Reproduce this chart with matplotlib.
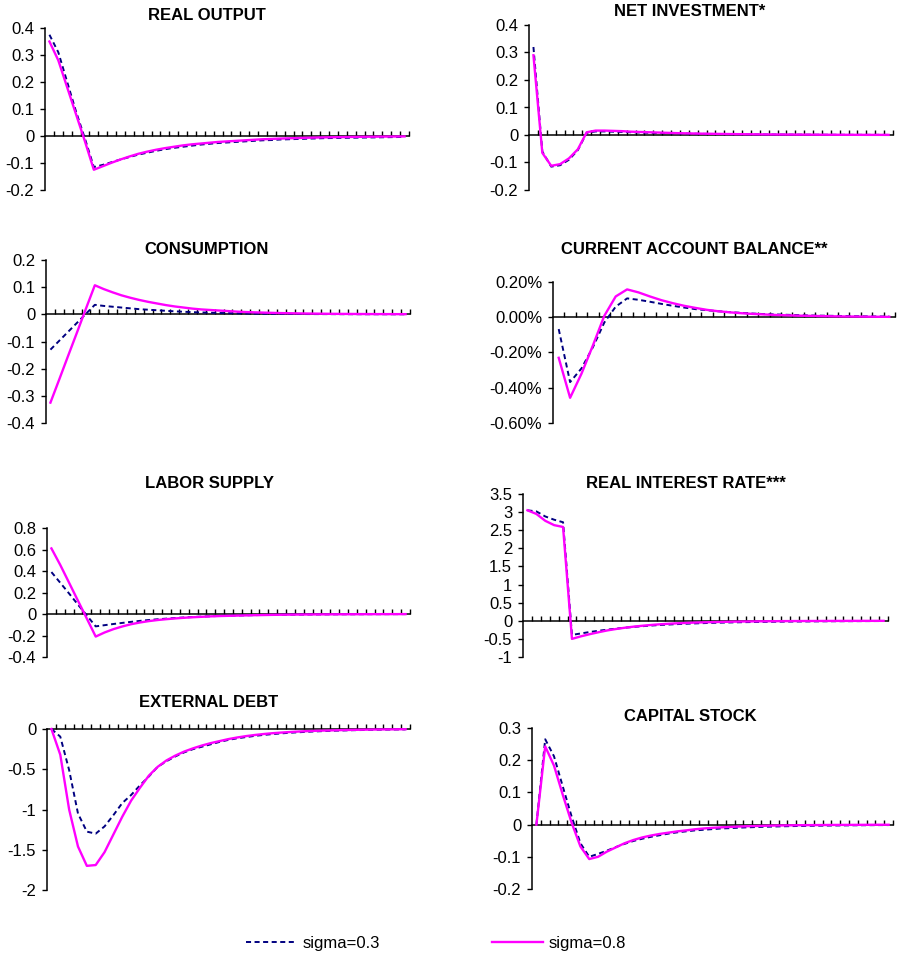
import matplotlib
matplotlib.use("Agg")
import matplotlib.pyplot as plt
import numpy as np

plt.rcParams['font.family'] = ['Liberation Sans', 'DejaVu Sans']

# ---------------- data ----------------
real_output_s03 = [0.375, 0.31, 0.20, 0.09, -0.01, -0.115, -0.107, -0.097, -0.087, -0.078, -0.069, -0.062, -0.055, -0.049, -0.044, -0.040, -0.036, -0.032, -0.029, -0.026, -0.024, -0.022, -0.020, -0.018, -0.016, -0.015, -0.013, -0.012, -0.011, -0.010, -0.009, -0.008, -0.0075, -0.007, -0.0065, -0.006, -0.0055, -0.005, -0.0045, -0.004, -0.0035]
real_output_s08 = [0.35, 0.28, 0.18, 0.08, -0.02, -0.125, -0.112, -0.099, -0.087, -0.076, -0.066, -0.058, -0.051, -0.045, -0.040, -0.035, -0.031, -0.028, -0.025, -0.022, -0.020, -0.018, -0.016, -0.014, -0.012, -0.011, -0.0095, -0.0085, -0.0075, -0.0065, -0.0058, -0.005, -0.0045, -0.004, -0.0035, -0.003, -0.0027, -0.0024, -0.0021, -0.0018, -0.0016]

net_inv_s03 = [0.32, -0.06, -0.115, -0.11, -0.09, -0.055, 0.008, 0.013, 0.013, 0.012, 0.011, 0.010, 0.009, 0.008, 0.0072, 0.0065, 0.0058, 0.0052, 0.0047, 0.0042, 0.0038, 0.0034, 0.003, 0.0027, 0.0024, 0.0022, 0.002, 0.0018, 0.0016, 0.0014, 0.0013, 0.0012, 0.001, 0.0009, 0.0008, 0.0007, 0.0006, 0.0006, 0.0005, 0.0005, 0.0004]
net_inv_s08 = [0.29, -0.065, -0.112, -0.106, -0.085, -0.052, 0.01, 0.016, 0.016, 0.015, 0.014, 0.012, 0.011, 0.010, 0.009, 0.008, 0.007, 0.0062, 0.0055, 0.0049, 0.0044, 0.0039, 0.0035, 0.0031, 0.0028, 0.0025, 0.0022, 0.002, 0.0018, 0.0016, 0.0014, 0.0013, 0.0011, 0.001, 0.0009, 0.0008, 0.0007, 0.0006, 0.0005, 0.0005, 0.0004]

consumption_s03 = [-0.13, -0.097, -0.064, -0.031, 0.002, 0.035, 0.031, 0.028, 0.025, 0.022, 0.019, 0.017, 0.015, 0.013, 0.011, 0.0095, 0.008, 0.007, 0.006, 0.005, 0.0043, 0.0037, 0.0031, 0.0026, 0.0022, 0.0019, 0.0016, 0.0014, 0.0012, 0.001, 0.0009, 0.0008, 0.0007, 0.0006, 0.0005, 0.0004, 0.0004, 0.0003, 0.0003, 0.0002, 0.0002]
consumption_s08 = [-0.325, -0.239, -0.152, -0.066, 0.021, 0.107, 0.093, 0.081, 0.070, 0.061, 0.053, 0.046, 0.040, 0.034, 0.029, 0.025, 0.021, 0.018, 0.016, 0.014, 0.012, 0.010, 0.0085, 0.0073, 0.0063, 0.0054, 0.0046, 0.004, 0.0034, 0.0029, 0.0025, 0.0021, 0.0018, 0.0016, 0.0014, 0.0012, 0.001, 0.0009, 0.0008, 0.0007, 0.0006]

# current account balance, in percent
ca_s03 = [-0.067, -0.368, -0.29, -0.17, -0.03, 0.06, 0.107, 0.099, 0.088, 0.076, 0.065, 0.055, 0.046, 0.04, 0.034, 0.029, 0.025, 0.021, 0.018, 0.016, 0.014, 0.012, 0.010, 0.009, 0.008, 0.007, 0.006, 0.005, 0.0045, 0.004]
ca_s08 = [-0.23, -0.457, -0.32, -0.16, 0.008, 0.118, 0.158, 0.141, 0.118, 0.097, 0.08, 0.065, 0.053, 0.042, 0.034, 0.028, 0.023, 0.019, 0.016, 0.013, 0.011, 0.009, 0.008, 0.0065, 0.0055, 0.0045, 0.004, 0.0033, 0.0028, 0.0023]

labor_s03 = [0.39, 0.29, 0.19, 0.087, -0.014, -0.115, -0.104, -0.093, -0.083, -0.073, -0.064, -0.056, -0.049, -0.043, -0.037, -0.032, -0.028, -0.024, -0.021, -0.018, -0.016, -0.014, -0.012, -0.0105, -0.009, -0.008, -0.007, -0.006, -0.0053, -0.0046, -0.004, -0.0035, -0.003, -0.0026, -0.0023, -0.002, -0.0018, -0.0016, -0.0014, -0.0012, -0.001]
labor_s08 = [0.61, 0.456, 0.29, 0.123, -0.043, -0.21, -0.172, -0.141, -0.116, -0.095, -0.079, -0.066, -0.056, -0.048, -0.041, -0.035, -0.030, -0.026, -0.022, -0.019, -0.017, -0.015, -0.013, -0.011, -0.0095, -0.008, -0.007, -0.006, -0.0052, -0.0045, -0.004, -0.0035, -0.003, -0.0026, -0.0023, -0.002, -0.0017, -0.0015, -0.0013, -0.0011, -0.001]

real_int_s03 = [3.05, 3.02, 2.88, 2.79, 2.72, -0.39, -0.35, -0.31, -0.275, -0.245, -0.215, -0.19, -0.168, -0.148, -0.13, -0.115, -0.102, -0.09, -0.08, -0.071, -0.063, -0.056, -0.05, -0.045, -0.04, -0.036, -0.032, -0.029, -0.026, -0.023, -0.021, -0.019, -0.017, -0.015, -0.013, -0.012, -0.011, -0.01, -0.009, -0.008, -0.007]
real_int_s08 = [3.05, 2.95, 2.76, 2.64, 2.59, -0.5, -0.43, -0.37, -0.315, -0.265, -0.225, -0.19, -0.16, -0.135, -0.113, -0.095, -0.08, -0.068, -0.057, -0.048, -0.041, -0.035, -0.03, -0.025, -0.021, -0.018, -0.015, -0.013, -0.011, -0.009, -0.008, -0.007, -0.006, -0.005, -0.0042, -0.0036, -0.003, -0.0026, -0.0022, -0.0019, -0.0016]

ext_debt_s03 = [0, -0.095, -0.51, -1.05, -1.275, -1.30, -1.21, -1.07, -0.92, -0.82, -0.70, -0.59, -0.47, -0.40, -0.34, -0.29, -0.25, -0.22, -0.19, -0.16, -0.135, -0.115, -0.1, -0.085, -0.073, -0.063, -0.054, -0.046, -0.04, -0.034, -0.029, -0.025, -0.021, -0.018, -0.015, -0.013, -0.011, -0.009, -0.0075, -0.006, -0.005]
ext_debt_s08 = [0, -0.32, -1.0, -1.46, -1.70, -1.69, -1.53, -1.31, -1.09, -0.89, -0.73, -0.58, -0.47, -0.39, -0.33, -0.28, -0.24, -0.205, -0.175, -0.15, -0.125, -0.105, -0.088, -0.074, -0.062, -0.052, -0.044, -0.037, -0.031, -0.026, -0.022, -0.019, -0.016, -0.013, -0.011, -0.009, -0.0075, -0.006, -0.005, -0.004, -0.003]

capital_s03 = [0, 0.265, 0.212, 0.118, 0.025, -0.058, -0.1, -0.091, -0.081, -0.07, -0.06, -0.051, -0.044, -0.038, -0.033, -0.028, -0.024, -0.021, -0.018, -0.016, -0.014, -0.012, -0.011, -0.0095, -0.0085, -0.0075, -0.0067, -0.006, -0.0053, -0.0047, -0.0042, -0.0038, -0.0034, -0.003, -0.0027, -0.0024, -0.0022, -0.002, -0.0018, -0.0016, -0.0015]
capital_s08 = [0, 0.243, 0.183, 0.092, 0.006, -0.068, -0.107, -0.1, -0.084, -0.071, -0.058, -0.048, -0.04, -0.034, -0.029, -0.025, -0.021, -0.018, -0.0145, -0.012, -0.01, -0.0085, -0.0072, -0.006, -0.005, -0.0043, -0.0036, -0.003, -0.0026, -0.0022, -0.0018, -0.0016, -0.0014, -0.0012, -0.001, -0.0009, -0.0008, -0.0007, -0.0006, -0.0005, -0.0005]

titles = ["REAL OUTPUT", "NET INVESTMENT*", "CONSUMPTION", "CURRENT ACCOUNT BALANCE**",
          "LABOR SUPPLY", "REAL INTEREST RATE***", "EXTERNAL DEBT", "CAPITAL STOCK"]

yticks_ro = [-0.2, -0.1, 0, 0.1, 0.2, 0.3, 0.4]
ylabels_ro = ["-0.2", "-0.1", "0", "0.1", "0.2", "0.3", "0.4"]
yticks_cons = [-0.4, -0.3, -0.2, -0.1, 0, 0.1, 0.2]
ylabels_cons = ["-0.4", "-0.3", "-0.2", "-0.1", "0", "0.1", "0.2"]
yticks_ca = [-0.6, -0.4, -0.2, 0, 0.2]
ylabels_ca = ["-0.60%", "-0.40%", "-0.20%", "0.00%", "0.20%"]
yticks_lab = [-0.4, -0.2, 0, 0.2, 0.4, 0.6, 0.8]
ylabels_lab = ["-0.4", "-0.2", "0", "0.2", "0.4", "0.6", "0.8"]
yticks_ri = [-1, -0.5, 0, 0.5, 1, 1.5, 2, 2.5, 3, 3.5]
ylabels_ri = ["-1", "-0.5", "0", "0.5", "1", "1.5", "2", "2.5", "3", "3.5"]
yticks_ed = [-2, -1.5, -1, -0.5, 0]
ylabels_ed = ["-2", "-1.5", "-1", "-0.5", "0"]
yticks_cap = [-0.2, -0.1, 0, 0.1, 0.2, 0.3]
ylabels_cap = ["-0.2", "-0.1", "0", "0.1", "0.2", "0.3"]

legend_labels = ["sigma=0.3", "sigma=0.8"]

# ---------------- layout (pixels) ----------------
W, H = 897, 955
fig = plt.figure(figsize=(W / 100, H / 100), dpi=100)

panels = [
    # series03, series08, yticks, ylabels, rect(x0, ytop, x1, ybot), title center (x, y)
    (real_output_s03, real_output_s08, yticks_ro, ylabels_ro, (45, 28, 409, 190), (207, 16)),
    (net_inv_s03, net_inv_s08, yticks_ro, ylabels_ro, (529, 25, 893, 190), (690, 11)),
    (consumption_s03, consumption_s08, yticks_cons, ylabels_cons, (46, 260, 410, 423), (207, 250)),
    (ca_s03, ca_s08, yticks_ca, ylabels_ca, (553, 282, 895, 423), (694, 250)),
    (labor_s03, labor_s08, yticks_lab, ylabels_lab, (47, 528, 410, 657), (209, 483)),
    (real_int_s03, real_int_s08, yticks_ri, ylabels_ri, (523, 494, 888, 657), (686, 483)),
    (ext_debt_s03, ext_debt_s08, yticks_ed, ylabels_ed, (47, 729, 410, 890), (209, 702)),
    (capital_s03, capital_s08, yticks_cap, ylabels_cap, (532, 728, 893, 889), (690, 716)),
]

BLUE = "#000080"
PINK = "#FF00FF"
FS = 12

handles = None
for (s03, s08, yt, yl, rect, tpos), title in zip(panels, titles):
    x0, yt0, x1, yb = rect
    ax = fig.add_axes([x0 / W, 1 - yb / H, (x1 - x0) / W, (yb - yt0) / H])
    n = len(s08)
    x = np.arange(n)
    h1, = ax.plot(x, s03, color=BLUE, lw=1.4, linestyle=(0, (2.6, 1.8)), clip_on=False, zorder=3)
    h2, = ax.plot(x, s08, color=PINK, lw=1.7, clip_on=False, zorder=4)
    if handles is None:
        handles = [h1, h2]
    ax.set_xlim(-0.5, n - 0.5)
    ax.set_ylim(yt[0], yt[-1])
    ax.set_yticks(yt)
    ax.set_yticklabels(yl)
    ax.set_xticks(np.arange(0.5, n, 1.0))
    ax.set_xticklabels([])
    for sp in ("top", "right"):
        ax.spines[sp].set_visible(False)
    ax.spines["bottom"].set_position(("data", 0))
    ax.spines["bottom"].set_linewidth(1.1)
    ax.spines["left"].set_linewidth(1.1)
    ax.spines["bottom"].set_zorder(2)
    ax.tick_params(axis="x", direction="in", length=3.8, width=1.0, color="black", labelbottom=False)
    ax.tick_params(axis="y", direction="out", length=3.8, width=1.0, pad=4, labelsize=FS)
    ax.patch.set_alpha(0)
    fig.text(tpos[0] / W, 1 - tpos[1] / H, title, ha="center", va="center",
             fontsize=FS, fontweight="bold")

fig.legend(handles, legend_labels, loc="center left",
           bbox_to_anchor=(246 / W, 1 - 943 / H), ncol=2, frameon=False,
           fontsize=FS, handlelength=3.05, handletextpad=0.36, columnspacing=6.7,
           borderpad=0, borderaxespad=0)

fig.savefig("out.png", dpi=100)
